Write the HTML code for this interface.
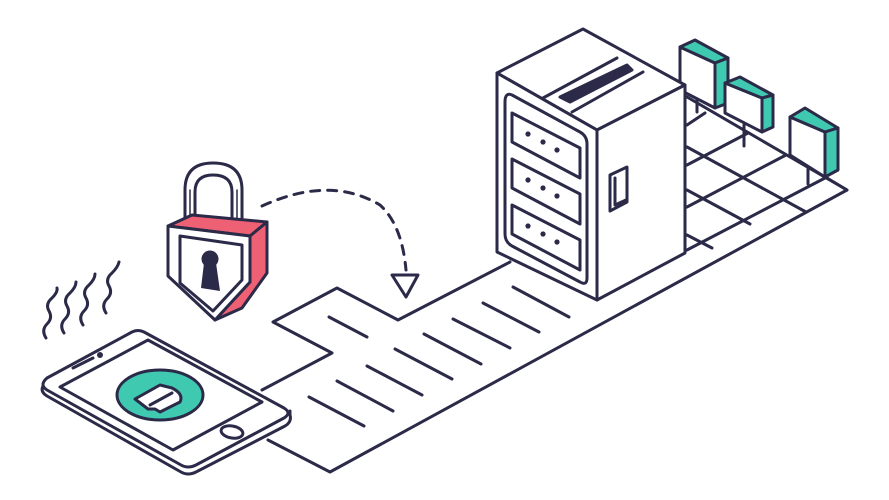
<!DOCTYPE html>
<html><head><meta charset="utf-8"><style>
html,body{margin:0;padding:0;background:#fff;}
svg{display:block;}
</style></head><body>
<svg width="889" height="500" viewBox="0 0 889 500" xmlns="http://www.w3.org/2000/svg">
<g fill="none" stroke="#2b2a48" stroke-width="3" stroke-linejoin="round" stroke-linecap="round">
<!-- path strip -->
<path d="M510,262 L398,320 L337,288 L273,322 L332,353 L262,390 M268,440 L330,472 L847,190 L827,178" fill="#fff"/>
<!-- grid -->
<line x1="687" y1="97" x2="847" y2="190"/>
<line x1="687" y1="147" x2="806" y2="212"/>
<line x1="687" y1="190" x2="750" y2="224"/>
<line x1="687" y1="235" x2="712" y2="248"/>
<line x1="687" y1="125" x2="705" y2="113"/>
<line x1="687" y1="165" x2="748" y2="133"/>
<line x1="687" y1="207" x2="786" y2="155"/>
<line x1="687" y1="250" x2="825" y2="178"/>
<!-- poles -->
<line x1="697" y1="95" x2="697" y2="112"/>
<line x1="744" y1="125" x2="744" y2="146"/>
<line x1="808" y1="165" x2="808" y2="184"/>
<!-- text lines on path -->
<line x1="329" y1="317" x2="367" y2="337"/>
<line x1="513" y1="287" x2="569" y2="317"/>
<line x1="483" y1="303" x2="539" y2="332"/>
<line x1="453" y1="319" x2="510" y2="348"/>
<line x1="424" y1="334" x2="481" y2="364"/>
<line x1="395" y1="349" x2="452" y2="379"/>
<line x1="367" y1="366" x2="422" y2="395"/>
<line x1="337" y1="381" x2="393" y2="411"/>
<line x1="309" y1="397" x2="364" y2="426"/>
<!-- boxes -->
<path d="M680,47 L715,63 L715,108 L680,90 Z" fill="#fff"/>
<path d="M680,47 L695,40 L728,58 L715,63 Z" fill="#40c9b1"/>
<path d="M715,63 L728,58 L728,103 L715,108 Z" fill="#40c9b1"/>
<path d="M725,83 L762,98 L762,132 L725,113 Z" fill="#fff"/>
<path d="M725,83 L740,77 L773,95 L762,98 Z" fill="#40c9b1"/>
<path d="M762,98 L773,95 L773,127 L762,132 Z" fill="#40c9b1"/>
<path d="M790,117 L825,132 L825,177 L790,155 Z" fill="#fff"/>
<path d="M790,117 L805,108 L838,128 L825,132 Z" fill="#40c9b1"/>
<path d="M825,132 L838,128 L838,170 L825,177 Z" fill="#40c9b1"/>
<!-- server -->
<path d="M497,73 L583,29 L685,85 L597,130 Z" fill="#fff"/>
<path d="M597,130 L685,85 L685,253 L597,300 Z" fill="#fff"/>
<path d="M497,73 L597,130 L597,300 L497,252 Z" fill="#fff"/>
<line x1="543" y1="98" x2="617" y2="58"/>
<path d="M560,97 L627,65 L632,70 L570,102 Z" fill="#2b2a48"/>
<line x1="572" y1="112" x2="643" y2="72"/>
<path d="M512,95 L580,132 Q587,136 587,144 L587,278 Q587,286 580,282 L512,246 Q505,242 505,234 L505,102 Q505,92 512,95 Z"/>
<path d="M512,113 L580,148 L580,178 L512,142 Z"/>
<path d="M512,159 L580,194 L580,224 L512,188 Z"/>
<path d="M512,205 L580,240 L580,270 L512,234 Z"/>
<g fill="#2b2a48" stroke="none">
<circle cx="528" cy="134" r="2.6"/><circle cx="543" cy="142" r="2.6"/><circle cx="557" cy="150" r="2.6"/>
<circle cx="528" cy="180" r="2.6"/><circle cx="543" cy="188" r="2.6"/><circle cx="557" cy="196" r="2.6"/>
<circle cx="528" cy="226" r="2.6"/><circle cx="543" cy="234" r="2.6"/><circle cx="557" cy="242" r="2.6"/>
</g>
<path d="M610,175 L627,167 L627,202 L610,211 Z"/>
<path d="M615,178 L615,205 L626,200"/>
<!-- dashed arc -->
<path d="M262,206 Q330,175 380,205 Q402,225 406,270" stroke-dasharray="9 8"/>
<path d="M392,275 L418,275 L406,297 Z" fill="#fff"/>
<!-- lock -->
<path d="M185,222 L185,190 Q185,163 213,163 Q242,163 242,190 L242,224 L232,224 L232,192 Q232,175 213,175 Q195,175 195,192 L195,222 Z" fill="#fff"/>
<line x1="190" y1="190" x2="190" y2="222" stroke-width="1.5"/>
<line x1="237" y1="190" x2="237" y2="224" stroke-width="1.5"/>
<path d="M168,226 L192,215 L267,222 L250,236 Z" fill="#ee6175"/>
<path d="M250,236 L267,222 L267,273 L242,308 L215,320 L250,282 Z" fill="#ee6175"/>
<path d="M168,226 L250,236 L250,282 L215,320 L168,276 Z" fill="#fff"/>
<path d="M180,236 L242,245 L242,280 L213,311 L180,283 Z"/>
<g fill="#2b2a48" stroke="none">
<circle cx="210" cy="259" r="8.5"/>
<path d="M204,263 L216,263 L220,291 L201,288 Z"/>
</g>
<!-- waves -->
<path d="M46,338 Q41,330 47,324 Q53,318 49,311 Q45,304 52,298 Q58,292 57,288"/>
<path d="M64,333 Q59,325 65,319 Q71,313 67,306 Q63,299 70,293 Q76,287 76,282"/>
<path d="M83,325 Q78,317 84,311 Q90,305 86,298 Q82,291 89,285 Q95,279 95,274"/>
<path d="M106,313 Q101,305 107,299 Q113,293 109,286 Q105,279 112,273 Q118,267 119,262"/>
<!-- tablet -->
<path d="M43,386 Q40,392 47,396 L181,472 Q188,476 196,472 L285,426 Q292,422 290,415 L290,411" fill="#fff"/>
<path d="M47,378 L132,332 Q138,329 144,332 L284,408 Q292,413 284,418 L196,465 Q188,469 181,465 L47,390 Q39,385 47,378 Z" fill="#fff"/>
<path d="M60,387 L148,340 L262,402 L173,450 Z"/>
<ellipse cx="160" cy="395" rx="43" ry="25" fill="#40c9b1"/>
<path d="M135,399 L160,385 L172,388 Q184,394 180,402 L160,412 L155,409 L148,409 Z" fill="#fff"/>
<line x1="150" y1="405" x2="172" y2="393"/>
<line x1="73" y1="368" x2="93" y2="358"/>
<circle cx="100" cy="355" r="1.5" fill="#2b2a48"/>
<ellipse cx="232" cy="432" rx="11" ry="6" transform="rotate(10 232 432)"/>
</g>
</svg>
</body></html>
